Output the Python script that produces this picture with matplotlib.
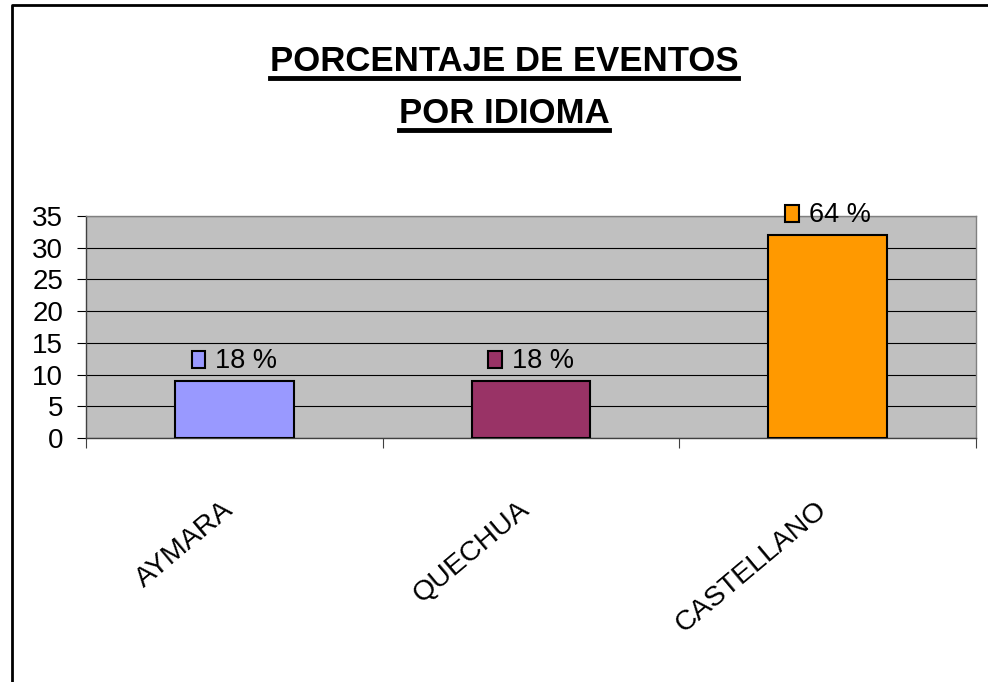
import matplotlib.pyplot as plt
from matplotlib.lines import Line2D
from matplotlib.patches import Rectangle
from matplotlib.offsetbox import AnnotationBbox, HPacker, DrawingArea, TextArea

# Datos
idiomas = ["AYMARA", "QUECHUA", "CASTELLANO"]
eventos = [9, 9, 32]
etiquetas = ["18 %", "18 %", "64 %"]
colores = ["#9999FF", "#993366", "#FF9900"]
yticks = [0, 5, 10, 15, 20, 25, 30, 35]

plt.rcParams["font.family"] = ["Liberation Sans", "DejaVu Sans"]

fig = plt.figure(figsize=(9.88, 6.82), dpi=100)
W, H = 988, 682
ax = fig.add_axes([86 / W, 1 - 438 / H, (976 - 86) / W, (438 - 216) / H])
ax.set_facecolor("#C0C0C0")

x = range(len(idiomas))
ax.bar(x, eventos, width=0.4, color=colores, edgecolor="black", linewidth=1.5, zorder=3)

ax.set_xlim(-0.5, 2.5)
ax.set_ylim(0, 35)
ax.set_yticks(yticks)
ax.yaxis.grid(True, color="black", linewidth=0.8, zorder=1)
ax.set_axisbelow(True)
ax.tick_params(axis="y", labelsize=20, length=6.5, width=0.8, pad=10, direction="out")

# categorias: marcas entre barras, etiquetas giradas
ax.set_xticks(list(x))
ax.set_xticklabels(idiomas, rotation=40, ha="right", va="baseline", rotation_mode="anchor", fontsize=20.5)
ax.tick_params(axis="x", which="major", length=0, pad=53)
ax.set_xticks([-0.5, 0.5, 1.5, 2.5], minor=True)
ax.tick_params(axis="x", which="minor", length=7, width=0.8, color="#404040")

for s in ["top", "right"]:
    ax.spines[s].set_color("#808080")
for s in ["left", "bottom"]:
    ax.spines[s].set_color("#404040")
for s in ax.spines.values():
    s.set_linewidth(1)

# etiquetas de datos con clave de leyenda
for i, (v, lab, c) in enumerate(zip(eventos, etiquetas, colores)):
    da = DrawingArea(11, 13, 0, 0)
    da.add_artist(Rectangle((0, 0), 10, 12.5, facecolor=c, edgecolor="black", linewidth=1.5))
    ta = TextArea(lab, textprops=dict(fontsize=19.5, color="black"))
    box = HPacker(children=[da, ta], align="baseline", pad=0, sep=6)
    ab = AnnotationBbox(box, (i, v), xybox=(0, 5), xycoords="data", boxcoords="offset points",
                        box_alignment=(0.5, 0), frameon=False, zorder=4)
    ax.add_artist(ab)

# titulo subrayado
t1 = fig.text(504 / W, 1 - 71 / H, "PORCENTAJE DE EVENTOS", ha="center", va="baseline",
              fontsize=25, fontweight="bold")
t2 = fig.text(504 / W, 1 - 123 / H, "POR IDIOMA", ha="center", va="baseline",
              fontsize=25, fontweight="bold")
fig.canvas.draw()
r = fig.canvas.get_renderer()
for t, yb in [(t1, 71), (t2, 123)]:
    bb = t.get_window_extent(r)
    yl = 1 - (yb + 7) / H
    fig.add_artist(Line2D([bb.x0 / W, bb.x1 / W], [yl, yl], color="black", linewidth=3.5,
                          transform=fig.transFigure))

# borde del grafico
fig.add_artist(Line2D([12 / W, 12 / W, 1], [0, 1 - 5 / H, 1 - 5 / H], color="black",
                      linewidth=2, transform=fig.transFigure))

plt.savefig("out.png", dpi=100)
